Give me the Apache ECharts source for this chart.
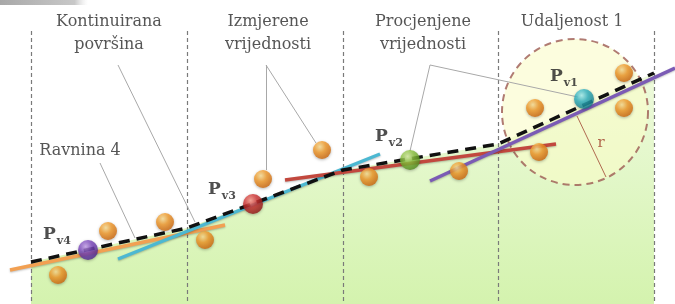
<!DOCTYPE html>
<html>
<head>
<meta charset="utf-8">
<script src="https://cdn.jsdelivr.net/npm/echarts@6/dist/echarts.min.js"></script>
<style>
html,body{margin:0;padding:0;background:#fff;}
#main{width:675px;height:304px;}
</style>
</head>
<body>
<div id="main"></div>
<script>
// surface profile (x, y in picture units, y grows downward)
var surface = [[31,262],[187,228],[343,170],[498,144],[654,73]];
var dividers = [31,187,343,498,654];
var dividerTop = 31;
var dividerBottom = 304;
// measured points (orange)
var measured = [[58,275],[108,231],[165,222],[205,240],[263,179],[322,150],[369,177],[459,171],[539,152],[535,108],[624,73],[624,108]];
// estimated points Pv4..Pv1
var estimated = [[88,250],[253,204],[410,160],[584,99]];
var estimatedNames = ['v4','v3','v2','v1'];
var estimatedLabelPos = [[57,233],[222,188],[389,135],[564,75]];
// local planes
var planes = [[[10,270],[225,225]],[[118,259],[380,154]],[[285,180],[556,144]],[[430,181],[675,68]]];
// leader lines
var leaders = [[[118,65],[195,222]],[[266,65],[266,170]],[[266,65],[316,143]],[[100,163],[135,238]],[[430,65],[578,97]],[[430,65],[410,151]]];
var radiusLine = [[577,116],[606,177]];
var circleCenter = [575,112];
var titles = ['Kontinuirana\npovršina','Izmjerene\nvrijednosti','Procjenjene\nvrijednosti','Udaljenost 1','Ravnina 4'];
var titlePos = [[109,33],[268,33],[423,33],[572,22],[80,151]];
var radiusText = 'r';
var radiusTextPos = [601,143];

var planeColors = ['#f2a052','#4cb8d2','#c2483e','#7b5bb5'];
var ballColors = [['#c9a4f0','#7c48bf','#4f2590'],['#ff9a8a','#d23434','#8e1414'],['#d8f0a0','#8cc43e','#4f8a1c'],['#a8f4f6','#2fb4c4','#137a88']];

function ball(c){
  return {type:'radial',x:0.38,y:0.32,r:0.72,colorStops:[{offset:0,color:c[0]},{offset:0.45,color:c[1]},{offset:1,color:c[2]}]};
}

var chart = echarts.init(document.getElementById('main'));
var serif = 'DejaVu Serif';

var option = {
  animation:false,
  grid:{left:0,right:0,top:0,bottom:0},
  xAxis:{type:'value',min:0,max:675,show:false},
  yAxis:{type:'value',min:0,max:304,inverse:true,show:false},
  graphic:[{
    type:'rect',shape:{x:0,y:0,width:88,height:5},
    style:{fill:{type:'linear',x:0,y:0,x2:1,y2:0,colorStops:[{offset:0,color:'#a8a8a8'},{offset:0.85,color:'#c8c8c8'},{offset:1,color:'rgba(230,230,230,0)'}]}}
  }],
  series:[
    {
      type:'line',z:1,data:surface,symbol:'none',silent:true,
      lineStyle:{width:0},
      areaStyle:{origin:'end',opacity:1,color:{type:'linear',x:0,y:0,x2:0,y2:1,colorStops:[{offset:0,color:'#eefadc'},{offset:0.45,color:'#e2f7c8'},{offset:1,color:'#d4f3ae'}]}}
    },
    {
      type:'scatter',z:2,data:[circleCenter],symbolSize:146,silent:true,
      itemStyle:{color:'rgba(250,251,200,0.75)',borderColor:'#9c5a52',borderWidth:2,borderType:[7,5]}
    },
    {
      type:'lines',coordinateSystem:'cartesian2d',z:3,silent:true,
      data:dividers.map(function(x){return {coords:[[x,dividerTop],[x,dividerBottom]]};}),
      lineStyle:{color:'#7a7a7a',width:1.2,type:[4,3],opacity:1}
    },
    {
      type:'lines',coordinateSystem:'cartesian2d',z:4,silent:true,
      data:leaders.map(function(s){return {coords:s};}),
      lineStyle:{color:'#a8a8a8',width:1,opacity:1}
    },
    {
      type:'lines',coordinateSystem:'cartesian2d',z:4,silent:true,
      data:[{coords:radiusLine}],
      lineStyle:{color:'#b06a50',width:1,opacity:1}
    },
    {
      type:'lines',coordinateSystem:'cartesian2d',z:5,silent:true,
      data:planes.map(function(s,i){return {coords:s,lineStyle:{color:planeColors[i]}};}),
      lineStyle:{width:3.5,opacity:1,shadowBlur:2,shadowColor:'rgba(0,0,0,0.25)',shadowOffsetY:1}
    },
    {
      type:'line',z:6,data:surface,symbol:'none',silent:true,
      lineStyle:{color:'#111',width:3.5,type:[11,7]}
    },
    {
      type:'scatter',z:7,data:measured,symbolSize:18,silent:true,
      itemStyle:{color:ball(['#ffe49a','#f59c2a','#cc640a']),shadowBlur:3,shadowColor:'rgba(0,0,0,0.35)',shadowOffsetY:1}
    },
    {
      type:'scatter',z:7,silent:true,symbolSize:20,
      data:estimated.map(function(p,i){return {value:p,itemStyle:{color:ball(ballColors[i])}};}),
      itemStyle:{shadowBlur:3,shadowColor:'rgba(0,0,0,0.35)',shadowOffsetY:1}
    },
    {
      type:'scatter',z:8,silent:true,symbolSize:0,
      data:estimatedLabelPos.map(function(p,i){return {value:p,name:estimatedNames[i]};}),
      label:{show:true,position:'inside',formatter:function(p){return '{p|P}{s|'+p.name+'}';},
        rich:{p:{fontFamily:serif,fontWeight:'bold',fontSize:17,color:'#222',lineHeight:20,verticalAlign:'bottom'},
              s:{fontFamily:serif,fontWeight:'bold',fontSize:11,color:'#222',lineHeight:20,verticalAlign:'bottom',padding:[0,0,-4,1]}}}
    },
    {
      type:'scatter',z:8,silent:true,symbolSize:0,
      data:titles.map(function(t,i){return {value:titlePos[i],name:t};}),
      label:{show:true,position:'inside',formatter:'{b}',fontFamily:serif,fontSize:16,lineHeight:23,color:'#2a2a2a',align:'center',verticalAlign:'middle'}
    },
    {
      type:'scatter',z:8,silent:true,symbolSize:0,
      data:[{value:radiusTextPos,name:radiusText}],
      label:{show:true,position:'inside',formatter:'{b}',fontFamily:serif,fontSize:15,color:'#a0402c'}
    }
  ]
};
chart.setOption(option);
</script>
</body>
</html>
